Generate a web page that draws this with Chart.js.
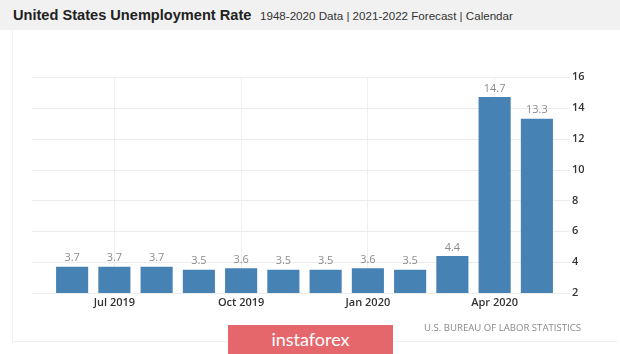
<!DOCTYPE html>
<html>
<head>
<meta charset="utf-8">
<script src="https://cdn.jsdelivr.net/npm/chart.js@4.4.0/dist/chart.umd.min.js"></script>
<style>
html,body{margin:0;padding:0;background:#fff;}
body{width:620px;height:354px;position:relative;overflow:hidden;}
#header{position:absolute;left:0;top:0;width:620px;height:30px;background:#f1f1f1;}
#title{position:absolute;left:13px;top:7px;font-family:"Liberation Sans",Arial,sans-serif;font-weight:bold;font-size:14.6px;color:#222;white-space:nowrap;}
#subtitle{position:absolute;left:260px;top:9px;font-family:"Liberation Sans",Arial,sans-serif;font-size:11.6px;color:#333;white-space:nowrap;}
#panel{position:absolute;left:12px;top:30px;width:605px;height:311px;border-left:1px solid #f0f0f0;border-bottom:1px solid #f0f0f0;}
#chartwrap{position:absolute;left:0;top:0;width:620px;height:354px;}
#source{position:absolute;left:424px;top:321px;font-family:"Open Sans",sans-serif;font-size:9.6px;color:#8a8a8a;letter-spacing:0px;white-space:nowrap;}
#logo{position:absolute;left:228px;top:325px;width:165px;height:29px;background:#e6676b;color:#fff;font-family:Lato,sans-serif;font-size:18px;text-align:center;line-height:28px;}
</style>
</head>
<body>
<div id="header"></div>
<div id="title">United States Unemployment Rate</div>
<div id="subtitle">1948-2020 Data | 2021-2022 Forecast | Calendar</div>
<div id="panel"></div>
<div id="chartwrap"><canvas id="c" width="620" height="354"></canvas></div>
<div id="source">U.S. BUREAU OF LABOR STATISTICS</div>
<div id="logo">instaforex</div>
<script>
const categories = ['Jun 2019','Jul 2019','Aug 2019','Sep 2019','Oct 2019','Nov 2019','Dec 2019','Jan 2020','Feb 2020','Mar 2020','Apr 2020','May 2020'];
const rates = [3.7, 3.7, 3.7, 3.5, 3.6, 3.5, 3.5, 3.6, 3.5, 4.4, 14.7, 13.3];
const shownTickLabels = ['Jul 2019','Oct 2019','Jan 2020','Apr 2020'];
const yTicks = [2, 4, 6, 8, 10, 12, 14, 16];

const hGrid = {
  id: 'hGrid',
  beforeDatasetsDraw(chart) {
    const y = chart.scales.y, ctx = chart.ctx;
    ctx.save();
    ctx.strokeStyle = '#ececec';
    ctx.lineWidth = 1;
    yTicks.forEach(v => {
      const py = Math.round(y.getPixelForValue(v)) + 0.5;
      ctx.beginPath(); ctx.moveTo(32, py); ctx.lineTo(570, py); ctx.stroke();
    });
    ctx.restore();
  }
};
const valueLabels = {
  id: 'valueLabels',
  afterDatasetsDraw(chart) {
    const ctx = chart.ctx;
    const meta = chart.getDatasetMeta(0);
    ctx.save();
    ctx.font = '11px "Open Sans", sans-serif';
    ctx.fillStyle = '#8c8c8c';
    ctx.textAlign = 'center';
    ctx.textBaseline = 'bottom';
    meta.data.forEach((bar, i) => {
      ctx.fillText(rates[i].toFixed(1), bar.x, bar.y - 3);
    });
    ctx.restore();
  }
};

new Chart(document.getElementById('c'), {
  type: 'bar',
  data: {
    labels: categories,
    datasets: [{
      data: rates,
      backgroundColor: '#4682b4',
      borderWidth: 0,
      barPercentage: 0.76,
      categoryPercentage: 1.0
    }]
  },
  options: {
    responsive: false,
    animation: false,
    layout: { padding: { left: 51, top: 77, right: 0, bottom: 0 } },
    plugins: { legend: { display: false }, tooltip: { enabled: false } },
    scales: {
      x: {
        offset: true,
        grid: {
          offset: false,
          drawTicks: false,
          color: ctx => (ctx.tick && shownTickLabels.includes(categories[ctx.tick.value])) ? '#efefef' : 'rgba(0,0,0,0)'
        },
        border: { display: false },
        ticks: {
          autoSkip: false,
          maxRotation: 0,
          padding: 3,
          color: '#333',
          font: { family: '"Open Sans", sans-serif', size: 11, weight: '600' },
          callback: function(v, i) { const l = categories[i]; return shownTickLabels.includes(l) ? l : ''; }
        },
        afterFit: s => { s.height = 61; }
      },
      y: {
        position: 'right',
        min: 2, max: 16,
        grid: { display: false, drawTicks: false },
        border: { display: false },
        ticks: {
          stepSize: 2,
          padding: 14,
          color: '#333',
          font: { family: '"Open Sans", sans-serif', size: 11, weight: '600' }
        },
        afterFit: s => { s.width = 62; }
      }
    }
  },
  plugins: [hGrid, valueLabels]
});
</script>
</body>
</html>
